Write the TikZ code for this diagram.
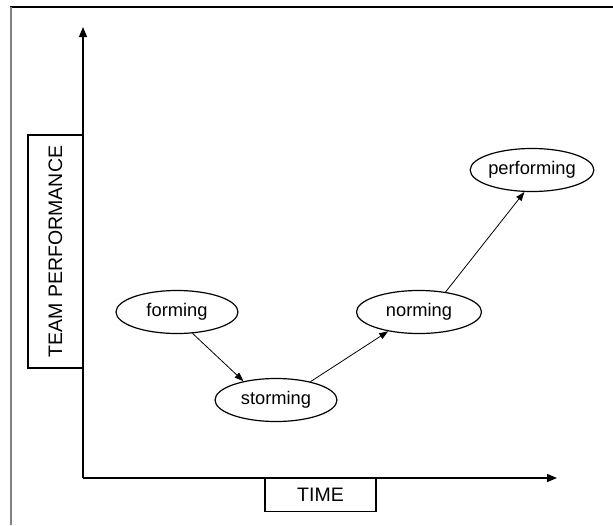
\documentclass[tikz,border=0pt]{standalone}
\usepackage{fontspec}
\setmainfont{Liberation Sans}
\usetikzlibrary{arrows.meta,shapes.geometric}

\tikzset{
  stage/.style={ellipse, draw, line width=1.2pt, inner sep=0pt,
    minimum width=122pt, minimum height=43pt, font=\fontsize{18.3}{20}\selectfont},
  labelbox/.style={rectangle, draw, line width=1.2pt, inner sep=0pt,
    font=\fontsize{19.5}{22}\selectfont},
  axis/.style={line width=1.2pt, -{Triangle[length=10pt,width=8pt]}},
  flow/.style={line width=0.8pt, -{Triangle[length=9pt,width=6.5pt]}},
}

\begin{document}
\begin{tikzpicture}[x=1pt, y=-1pt]
  \useasboundingbox (0,0) rectangle (613,525);

  % outer frame (top and left edges)
  \draw[line width=1.3pt] (10,7) -- (613,7);
  \draw[gray, line width=1.6pt] (11,7) -- (11,525);

  % axes
  \coordinate (origin) at (83,478);
  \coordinate (ytip) at (83,27);
  \coordinate (xtip) at (557,478);
  \draw[axis] (origin) -- (ytip);
  \draw[axis] (origin) -- (xtip);

  % axis labels
  \node[labelbox, rotate=90, minimum width=233pt, minimum height=55pt]
    (perf) at (55.5,251.5) {TEAM PERFORMANCE};
  \node[labelbox, minimum width=111pt, minimum height=33pt]
    (time) at (320.5,495) {TIME};

  % stages
  \node[stage] (forming) at (177,312) {forming};
  \node[stage] (storming) at (276,400) {storming};
  \node[stage, minimum width=125pt] (norming) at (419,312) {norming};
  \node[stage, minimum width=110pt] (performing) at (532,170) {performing};

  % transitions
  \draw[flow] (forming.-54) -- (storming.150);
  \draw[flow] (storming.28) -- (norming.212);
  \draw[flow] (norming.37) -- (performing.251);
\end{tikzpicture}
\end{document}
